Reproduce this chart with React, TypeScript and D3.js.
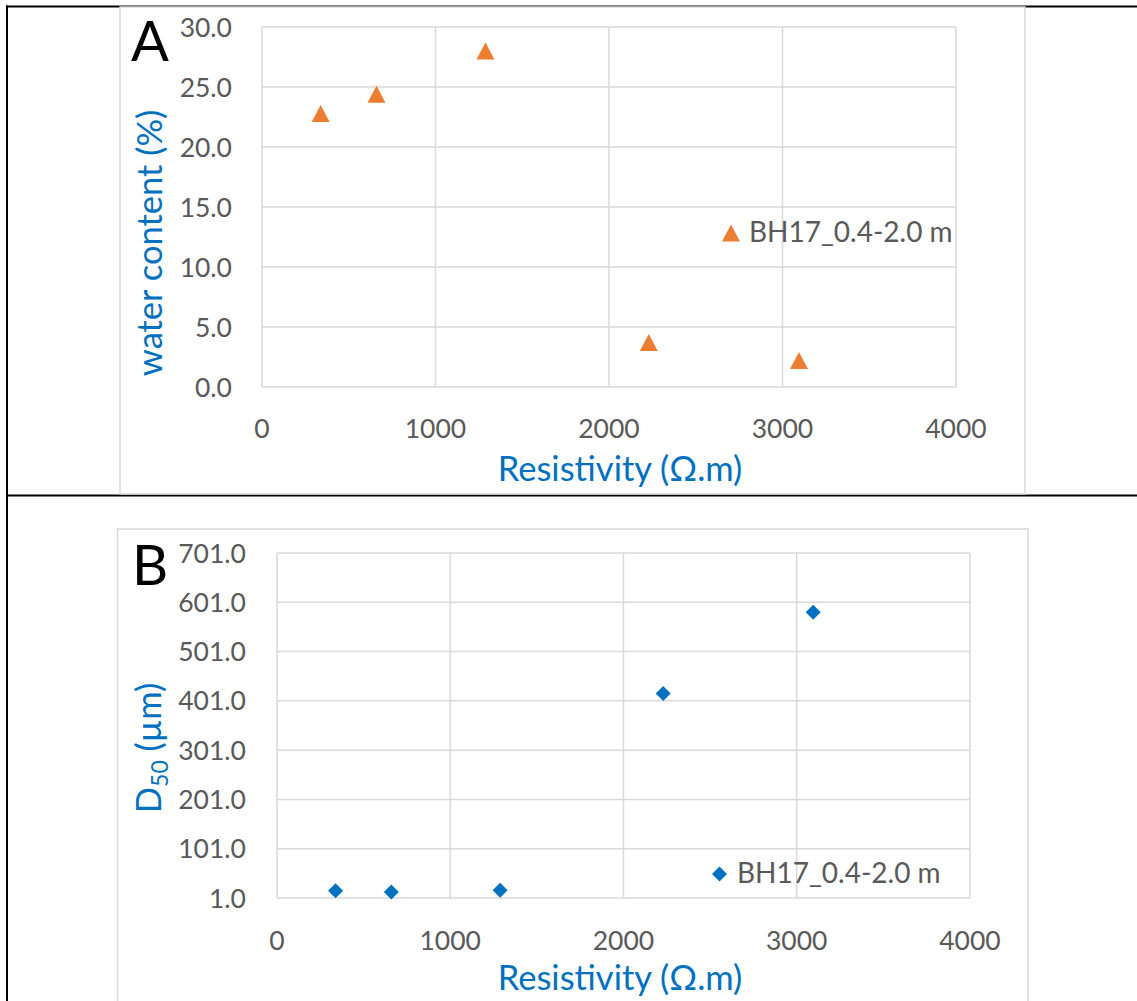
import React from "react";
import * as d3 from "d3";

const resistivity = [338, 660, 1288, 2229, 3095];
const waterContent = [22.8, 24.4, 28.0, 3.7, 2.2];
const d50Values = [15.8, 13.2, 16.6, 416, 581];
const seriesName = "BH17_0.4-2.0 m";
const xTicks = [0, 1000, 2000, 3000, 4000];
const waterTicks = [0, 5, 10, 15, 20, 25, 30];
const d50Ticks = [1, 101, 201, 301, 401, 501, 601, 701];

const FONT = "Lato, 'Open Sans', sans-serif";
const GRID = "#d9d9d9";
const TICK = "#595959";
const BLUE = "#0070c0";
const ORANGE = "#ed7d31";

const TRI = "M0,-8.5L9,8.5L-9,8.5Z";
const DIA = "M0,-7.5L7.5,0L0,7.5L-7.5,0Z";

type PanelProps = {
  letter: string;
  box: { x: number; y: number; w: number; h: number };
  plot: { x0: number; x1: number; y0: number; y1: number };
  yDomain: [number, number];
  yTicks: number[];
  yValues: number[];
  yLabelX: number;
  xTickBaseline: number;
  xTitleBaseline: number;
  yTitle: React.ReactNode;
  yTitleX: number;
  yTitleY: number;
  marker: string;
  color: string;
  legend: { mx: number; my: number; tx: number; ty: number };
  letterPos: { x: number; y: number };
};

function Panel(p: PanelProps) {
  const x = d3.scaleLinear().domain([0, 4000]).range([p.plot.x0, p.plot.x1]);
  const y = d3.scaleLinear().domain(p.yDomain).range([p.plot.y1, p.plot.y0]);
  const fmt = d3.format(".1f");
  return (
    <g>
      <rect x={p.box.x} y={p.box.y} width={p.box.w} height={p.box.h} fill="#fff" stroke={GRID} strokeWidth={1.5} />
      {p.yTicks.map((t) => (
        <line key={"h" + t} x1={p.plot.x0} x2={p.plot.x1} y1={y(t)} y2={y(t)} stroke={GRID} strokeWidth={1.5} />
      ))}
      {xTicks.map((t) => (
        <line key={"v" + t} x1={x(t)} x2={x(t)} y1={p.plot.y0} y2={p.plot.y1} stroke={GRID} strokeWidth={1.5} />
      ))}
      {p.yTicks.map((t) => (
        <text key={"yl" + t} x={p.yLabelX} y={y(t)} dy="0.36em" textAnchor="end" fontSize={26.5} fill={TICK} fontFamily={FONT}>
          {fmt(t)}
        </text>
      ))}
      {xTicks.map((t) => (
        <text key={"xl" + t} x={x(t)} y={p.xTickBaseline} textAnchor="middle" fontSize={26.5} fill={TICK} fontFamily={FONT}>
          {t}
        </text>
      ))}
      <text x={620} y={p.xTitleBaseline} textAnchor="middle" fontSize={34.5} fill={BLUE} fontFamily={FONT}>
        Resistivity (Ω.m)
      </text>
      <text transform={`translate(${p.yTitleX},${p.yTitleY}) rotate(-90)`} textAnchor="middle" fontSize={34.5} fill={BLUE} fontFamily={FONT}>
        {p.yTitle}
      </text>
      {resistivity.map((r, i) => (
        <path key={"m" + i} d={p.marker} transform={`translate(${x(r)},${y(p.yValues[i])})`} fill={p.color} />
      ))}
      <path d={p.marker} transform={`translate(${p.legend.mx},${p.legend.my})`} fill={p.color} />
      <text x={p.legend.tx} y={p.legend.ty} fontSize={28} fill={TICK} fontFamily={FONT}>
        {seriesName}
      </text>
      <text x={p.letterPos.x} y={p.letterPos.y} fontSize={56} fill="#000" fontFamily={FONT}>
        {p.letter}
      </text>
    </g>
  );
}

export default function App() {
  return (
    <svg width={1137} height={1001} style={{ position: "absolute", left: 0, top: 0, background: "#fff" }}>
      <rect x={0} y={0} width={1137} height={1001} fill="#fff" />
      <line x1={6} x2={1137} y1={6.5} y2={6.5} stroke="#000" strokeWidth={2} />
      <line x1={7} x2={7} y1={5.5} y2={1001} stroke="#000" strokeWidth={2} />
      <line x1={6} x2={1137} y1={495.5} y2={495.5} stroke="#000" strokeWidth={2} />
      <Panel
        letter="A"
        box={{ x: 120, y: 7, w: 905, h: 487 }}
        plot={{ x0: 262, x1: 956, y0: 27, y1: 387 }}
        yDomain={[0, 30]}
        yTicks={waterTicks}
        yValues={waterContent}
        yLabelX={232}
        xTickBaseline={438}
        xTitleBaseline={481}
        yTitle="water content (%)"
        yTitleX={162}
        yTitleY={243}
        marker={TRI}
        color={ORANGE}
        legend={{ mx: 731, my: 233, tx: 749, ty: 242 }}
        letterPos={{ x: 131, y: 61 }}
      />
      <Panel
        letter="B"
        box={{ x: 117.5, y: 529, w: 910.5, h: 490 }}
        plot={{ x0: 277, x1: 970, y0: 553, y1: 898 }}
        yDomain={[1, 701]}
        yTicks={d50Ticks}
        yValues={d50Values}
        yLabelX={246}
        xTickBaseline={950}
        xTitleBaseline={990}
        yTitle={
          <>
            D
            <tspan fontSize={23} dy={7}>50</tspan>
            <tspan dy={-7}> (µm)</tspan>
          </>
        }
        yTitleX={161}
        yTitleY={748}
        marker={DIA}
        color={BLUE}
        legend={{ mx: 719.5, my: 874, tx: 737, ty: 883 }}
        letterPos={{ x: 132, y: 585 }}
      />
    </svg>
  );
}
